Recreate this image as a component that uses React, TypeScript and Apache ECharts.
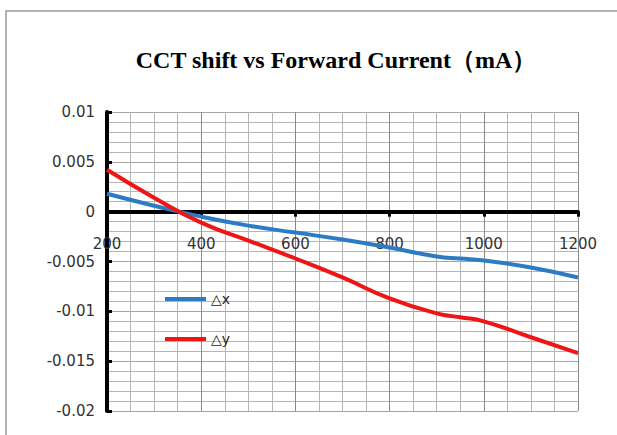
import React, { useEffect, useRef } from "react";
import * as echarts from "echarts";

const currents = [200, 300, 400, 500, 600, 700, 800, 900, 950, 1000, 1100, 1200];
const deltaX = [0.0018, 0.0006, -0.0005, -0.0014, -0.0021, -0.0028, -0.0036, -0.0045, -0.0047, -0.0049, -0.0056, -0.0066];
const deltaY = [0.0042, 0.0014, -0.0011, -0.0029, -0.0047, -0.0066, -0.0087, -0.0102, -0.0106, -0.011, -0.0126, -0.0142];
const xTicks = [200, 400, 600, 800, 1000, 1200];
const yTicks = ["-0.02", "-0.015", "-0.01", "-0.005", "0", "0.005", "0.01"];
const seriesNames = ["\u25B3x", "\u25B3y"];
const titleText = "CCT shift vs Forward Current\uFF08mA\uFF09";

const GRID_TOP = 112;
const GRID_BOTTOM = 24;
const H = 435;

export default function App() {
  const ref = useRef<HTMLDivElement>(null);
  useEffect(() => {
    if (!ref.current) return;
    const chart = echarts.init(ref.current, undefined, { renderer: "svg" });
    const fmtY = (v: number) => {
      const s = parseFloat(v.toFixed(4)).toString();
      return yTicks.includes(s) ? s : "";
    };
    const gridH = H - GRID_TOP - GRID_BOTTOM;
    const zeroOffset = -(gridH * (0.02 / 0.03));
    chart.setOption({
      animation: false,
      backgroundColor: "#ffffff",
      title: {
        text: titleText,
        left: 331,
        top: 43,
        textAlign: "center",
        textStyle: {
          fontFamily: "Liberation Serif",
          fontWeight: "bold",
          fontSize: 24,
          color: "#000",
        },
      },
      graphic: [
        {
          type: "rect",
          shape: { x: 6, y: 11, width: 700, height: 600 },
          style: { fill: "none", stroke: "#9a9a9a", lineWidth: 1.5 },
          silent: true,
        },
      ],
      legend: {
        orient: "vertical",
        left: 165,
        top: 292,
        padding: 0,
        icon: "rect",
        itemWidth: 41,
        itemHeight: 4,
        itemGap: 26,
        textStyle: { fontFamily: "DejaVu Sans", fontSize: 14, color: "#222" },
        data: seriesNames,
      },
      grid: { left: 107, right: 39, top: GRID_TOP, bottom: GRID_BOTTOM, containLabel: false, outerBoundsMode: "none" },
      xAxis: {
        type: "value",
        min: 200,
        max: 1200,
        interval: 200,
        offset: zeroOffset,
        axisLine: { onZero: false, lineStyle: { color: "#000", width: 4 } },
        axisTick: { show: true, length: 5, lineStyle: { color: "#000", width: 3 } },
        axisLabel: {
          margin: 25,
          fontFamily: "DejaVu Sans",
          fontSize: 15,
          color: "#333",
          formatter: (v: number) => (xTicks.includes(v) ? String(v) : ""),
        },
        splitLine: { show: true, lineStyle: { color: "#8a8a8a", width: 1 } },
        minorTick: { show: false, splitNumber: 4 },
        minorSplitLine: { show: true, lineStyle: { color: "#b5b5b5", width: 1 } },
      },
      yAxis: {
        type: "value",
        min: -0.02,
        max: 0.01,
        interval: 0.005,
        axisLine: { show: true, onZero: false, lineStyle: { color: "#000", width: 4 } },
        axisTick: { show: true, inside: true, length: 5, lineStyle: { color: "#000", width: 3 } },
        axisLabel: {
          margin: 12,
          fontFamily: "DejaVu Sans",
          fontSize: 15,
          color: "#333",
          formatter: fmtY,
        },
        splitLine: { show: true, lineStyle: { color: "#a5a5a5", width: 1 } },
        minorTick: { show: false, splitNumber: 5 },
        minorSplitLine: { show: true, lineStyle: { color: "#b5b5b5", width: 1 } },
      },
      series: [
        {
          name: seriesNames[0],
          type: "line",
          smooth: true,
          symbol: "none",
          lineStyle: { color: "#2d7bc4", width: 4 },
          itemStyle: { color: "#2d7bc4" },
          data: currents.map((c, i) => [c, deltaX[i]]),
          z: 3,
        },
        {
          name: seriesNames[1],
          type: "line",
          smooth: true,
          symbol: "none",
          lineStyle: { color: "#f01515", width: 4 },
          itemStyle: { color: "#f01515" },
          data: currents.map((c, i) => [c, deltaY[i]]),
          z: 3,
        },
      ],
    });
    return () => chart.dispose();
  }, []);
  return (
    <div
      ref={ref}
      style={{ position: "absolute", left: 0, top: 0, width: 617, height: 435 }}
    />
  );
}
